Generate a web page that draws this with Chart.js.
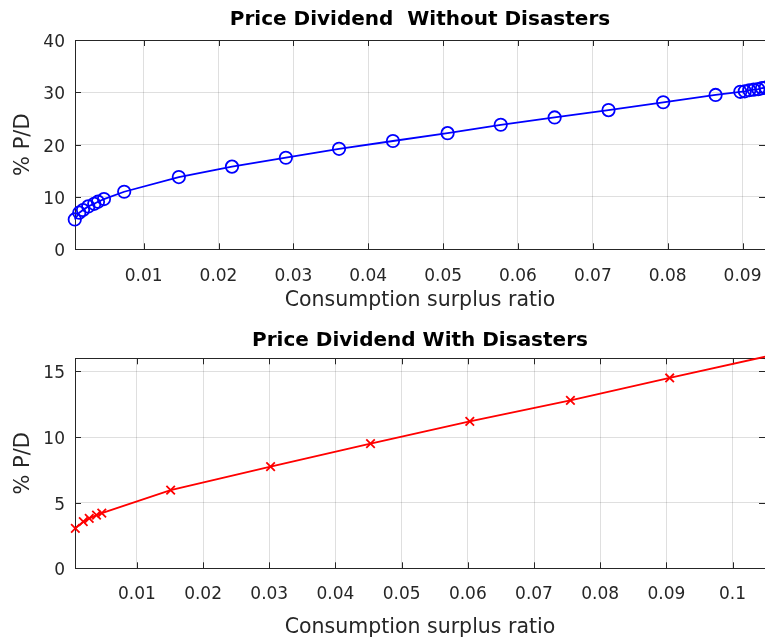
<!DOCTYPE html>
<html>
<head>
<meta charset="utf-8">
<script src="https://cdn.jsdelivr.net/npm/chart.js@4.4.0/dist/chart.umd.min.js"></script>
<style>
    body { margin: 0; background: #fff; }
    canvas { display: block; }
</style>
</head>
<body>
<canvas id="topChart" width="765" height="321"></canvas>
<canvas id="bottomChart" width="765" height="321"></canvas>
<script>
// consumption surplus ratio / price-dividend, no disasters
const surplusNoDis = [0.0008, 0.0014, 0.0019, 0.0026, 0.0034, 0.0039, 0.0047, 0.0074, 0.0147, 0.0218,
    0.0290, 0.0361, 0.0433, 0.0506, 0.0577, 0.0649, 0.0721, 0.0794, 0.0864, 0.0897,
    0.0903, 0.0909, 0.0915, 0.0921, 0.0926, 0.0931];
const pdNoDis = [5.7, 7.0, 7.5, 8.2, 8.7, 9.1, 9.6, 11.0, 13.8, 15.8,
    17.5, 19.2, 20.7, 22.2, 23.8, 25.2, 26.6, 28.1, 29.5, 30.1,
    30.2, 30.4, 30.5, 30.6, 30.8, 30.9];

// with disasters
const surplusDis = [0.0007, 0.0019, 0.0028, 0.0039, 0.0047, 0.0151, 0.0302, 0.0453, 0.0603, 0.0755, 0.0905, 0.1056];
const pdDis = [3.05, 3.55, 3.8, 4.05, 4.2, 5.95, 7.75, 9.5, 11.2, 12.8, 14.5, 16.2];

const xTicksTop = [0.01, 0.02, 0.03, 0.04, 0.05, 0.06, 0.07, 0.08, 0.09];
const yTicksTop = [0, 10, 20, 30, 40];
const xTicksBottom = [0.01, 0.02, 0.03, 0.04, 0.05, 0.06, 0.07, 0.08, 0.09, 0.1];
const yTicksBottom = [0, 5, 10, 15];

const axisColor = '#262626';
const sans = '"DejaVu Sans", Verdana, sans-serif';

// box around the plot + inward tick marks (matlab look)
const frameBox = {
    id: 'frameBox',
    beforeDatasetsDraw(chart) {
        const { ctx, chartArea: a, scales: { x, y } } = chart;
        ctx.save();
        ctx.strokeStyle = axisColor;
        ctx.lineWidth = 1;
        ctx.strokeRect(Math.round(a.left) + 0.5, Math.round(a.top) + 0.5,
            Math.round(a.right - a.left), Math.round(a.bottom - a.top));
        ctx.beginPath();
        x.ticks.forEach(t => {
            const px = Math.round(x.getPixelForValue(t.value)) + 0.5;
            ctx.moveTo(px, a.bottom); ctx.lineTo(px, a.bottom - 6);
            ctx.moveTo(px, a.top); ctx.lineTo(px, a.top + 6);
        });
        y.ticks.forEach(t => {
            const py = Math.round(y.getPixelForValue(t.value)) + 0.5;
            ctx.moveTo(a.left, py); ctx.lineTo(a.left + 6, py);
            ctx.moveTo(a.right, py); ctx.lineTo(a.right - 6, py);
        });
        ctx.stroke();
        ctx.restore();
    }
};

function makeChart(id, cfg) {
    const ctx = document.getElementById(id).getContext('2d');
    return new Chart(ctx, {
        type: 'line',
        data: {
            datasets: [{
                data: cfg.xs.map((v, i) => ({ x: v, y: cfg.ys[i] })),
                borderColor: cfg.color,
                backgroundColor: 'rgba(0,0,0,0)',
                borderWidth: 1.8,
                pointStyle: cfg.marker,
                pointRadius: cfg.markerSize,
                pointBorderWidth: 1.8,
                pointBorderColor: cfg.color,
                pointBackgroundColor: 'rgba(0,0,0,0)',
                tension: 0,
                clip: { left: 10, right: 10, top: 3, bottom: 10 }
            }]
        },
        options: {
            responsive: false,
            animation: false,
            devicePixelRatio: 1,
            layout: { padding: 0, autoPadding: false },
            plugins: {
                legend: { display: false },
                tooltip: { enabled: false },
                title: {
                    display: true,
                    fullSize: false,
                    text: cfg.title,
                    color: '#000',
                    font: { family: sans, size: 20, weight: 'bold', lineHeight: 1.2 },
                    padding: cfg.titlePad
                }
            },
            scales: {
                x: {
                    type: 'linear',
                    min: cfg.xMin,
                    max: cfg.xMax,
                    afterBuildTicks: axis => { axis.ticks = cfg.xTicks.map(v => ({ value: v })); },
                    afterFit: scale => {
                        scale.height = cfg.xAxisHeight;
                        scale.paddingLeft = 0;
                        scale.paddingRight = 0;
                    },
                    grid: { color: 'rgba(38,38,38,0.15)', drawTicks: false },
                    border: { display: false },
                    ticks: {
                        color: axisColor,
                        padding: cfg.xTickPad,
                        maxRotation: 0,
                        autoSkip: false,
                        font: { family: sans, size: 17 },
                        callback: v => String(Number(v.toFixed(3)))
                    },
                    title: {
                        display: true,
                        text: 'Consumption surplus ratio',
                        color: axisColor,
                        font: { family: sans, size: 20.5, lineHeight: 1.2 },
                        padding: { top: 0, bottom: cfg.xTitlePad }
                    }
                },
                y: {
                    type: 'linear',
                    min: cfg.yMin,
                    max: cfg.yMax,
                    afterBuildTicks: axis => { axis.ticks = cfg.yTicks.map(v => ({ value: v })); },
                    afterFit: scale => { scale.width = 75; },
                    grid: { color: 'rgba(38,38,38,0.15)', drawTicks: false },
                    border: { display: false },
                    ticks: {
                        color: axisColor,
                        padding: 10,
                        labelOffset: 2.5,
                        font: { family: sans, size: 17 }
                    },
                    title: {
                        display: true,
                        text: '% P/D',
                        color: axisColor,
                        font: { family: sans, size: 21, lineHeight: 1.2 },
                        padding: { top: 10.5, bottom: 0 }
                    }
                }
            }
        },
        plugins: [frameBox]
    });
}

makeChart('topChart', {
    xs: surplusNoDis, ys: pdNoDis,
    color: '#0000ff', marker: 'circle', markerSize: 6.2,
    title: 'Price Dividend  Without Disasters',
    titlePad: { top: 8, bottom: 8 },
    xMin: 0.00083, xMax: 0.0930, xTicks: xTicksTop,
    yMin: 0, yMax: 40, yTicks: yTicksTop,
    xAxisHeight: 71.7, xTickPad: 17.5, xTitlePad: 8
});

makeChart('bottomChart', {
    xs: surplusDis, ys: pdDis,
    color: '#ff0000', marker: 'crossRot', markerSize: 6,
    title: 'Price Dividend With Disasters',
    titlePad: { top: 8, bottom: 5.3 },
    xMin: 0.00065, xMax: 0.1049, xTicks: xTicksBottom,
    yMin: 0, yMax: 16, yTicks: yTicksBottom,
    xAxisHeight: 73.7, xTickPad: 16, xTitlePad: 2.5
});
</script>
</body>
</html>
